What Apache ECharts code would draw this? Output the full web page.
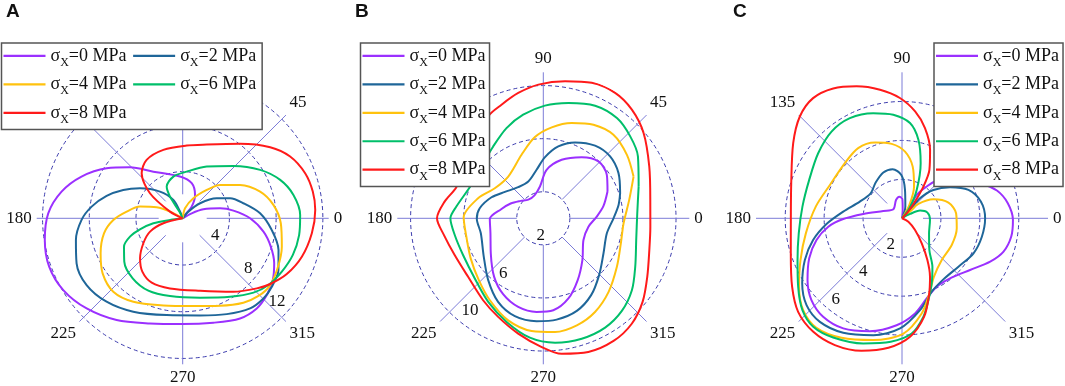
<!DOCTYPE html>
<html><head><meta charset="utf-8">
<script src="https://cdn.jsdelivr.net/npm/echarts@6/dist/echarts.min.js"></script>
<style>html,body{margin:0;padding:0;background:#fff}#c{width:1065px;height:386px}</style>
</head><body><div id="c"></div>
<script>
// ---- names, ticks ----
const sigmaNames = ['σX=0 MPa','σX=2 MPa','σX=4 MPa','σX=6 MPa','σX=8 MPa'];
const panelTitles = ['A','B','C'];
const angleTicks = [0,45,90,135,180,225,270,315];
const ringsA = [4,8,12];
const ringsB = [2,6,10];
const ringsC = [2,4,6];
const maxA = 12.5, maxB = 11, maxC = 7.5;

// ---- panel A data: [radius, angle(deg)] ----
const A0 = [[0,25],[0.88,29],[1.93,23.5],[3.31,15],[4.39,8.6],[5.77,0],[7.01,350.6],[7.92,342.2],[8.73,333.8],[9.35,325.6],[9.75,317.6],[9.99,309.4],[9.88,299.8],[9.32,286.4],[9.06,270],[9.43,252.7],[10.39,237],[11.28,223.2],[11.93,211],[12.16,199.9],[11.95,188.9],[11.52,177.9],[10.62,167.6],[9.37,157.6],[7.80,146.7],[6.28,135.9],[4.72,122.2],[3.58,93.7],[3.10,75.6],[2.26,62.1],[1.26,52.4],[0.35,55],[0,50]];
const A2 = [[0,50],[0.75,49.6],[1.97,40.9],[3.38,30.5],[4.40,22.9],[5.36,13.9],[6.64,3.7],[7.69,352.5],[8.64,341.7],[9.32,331.6],[9.62,322.5],[9.74,315.2],[9.63,306.8],[9.03,294.7],[8.45,280.1],[8.40,260.6],[9.05,242.1],[9.67,227.6],[10.02,214.8],[9.87,203],[9.33,191.5],[8.66,180.9],[7.86,172.7],[6.79,163.6],[5.64,154.5],[4.47,144.9],[3.0,130.4],[1.76,117],[0.62,111.8],[0,110]];
const A4 = [[0,78],[0.88,76.9],[1.94,61.9],[3.18,49.7],[4.29,41.8],[5.68,30.2],[7.01,19.0],[7.85,8.4],[8.41,357.1],[8.83,344],[9.18,332.2],[9.43,322],[9.29,314.3],[8.90,305.7],[8.14,293.1],[7.57,276.9],[7.64,257.5],[8.30,239.4],[8.65,226.6],[8.32,214.5],[7.64,203.1],[6.86,190.8],[5.94,181.4],[4.83,173.2],[3.79,164.7],[2.42,157.1],[1.07,151.4],[0,150]];
const A6 = [[0,115],[0.64,116.6],[2.15,120.3],[3.04,116.8],[3.66,102.6],[4.01,85.1],[4.88,65.1],[6.24,45.9],[7.82,32.0],[8.97,21.5],[9.69,11.9],[10.06,1.6],[10.07,351.8],[9.94,341.6],[9.64,331.7],[9.30,322.1],[8.79,313.6],[7.85,301.1],[6.96,282.3],[6.75,260.7],[6.86,244.6],[6.69,230.2],[6.23,216.6],[5.58,205.8],[4.78,199.2],[3.78,194.5],[2.55,189.7],[1.10,187.5],[0,187]];
const A8 = [[0,192],[1.71,194.5],[3.02,202.2],[3.99,212.4],[5.01,223.2],[5.73,232.9],[6.12,244.3],[6.10,259.7],[6.38,283.5],[7.64,304.6],[8.73,316.6],[9.37,323.1],[10.11,331.8],[10.72,342.1],[11.13,353.4],[11.37,3.6],[11.37,11.6],[11.17,20.2],[10.61,29.9],[9.65,39.1],[8.05,52.4],[6.64,72.0],[6.24,86.8],[6.09,105.8],[5.88,121.7],[5.22,132.3],[3.53,142.6],[1.23,152.2],[0,153]];

// ---- panel B data ----
const B0 = [[5.24,22.6],[5.80,34.4],[5.97,45.9],[5.44,57.9],[4.62,72.6],[3.66,86.1],[2.41,96],[1.85,111],[1.80,128.7],[2.15,142.4],[2.70,155.6],[3.25,167.8],[4.03,180.7],[4.14,195.9],[4.76,213.8],[5.76,230],[6.47,242.1],[6.94,254.2],[7.07,265.9],[6.97,276.2],[6.33,287.4],[5.33,299.1],[4.31,313.1],[3.44,331.6],[3.46,349.5],[4.03,1.8],[4.63,11.6],[5.24,22.6]];
const B2 = [[6.09,18.1],[6.61,31],[6.86,42.8],[6.72,54.5],[6.20,67.3],[5.53,78.2],[4.61,88.4],[3.69,97.9],[2.99,112.2],[3.01,128.9],[3.51,145.5],[4.21,157.9],[4.85,171],[5.01,180.3],[4.84,193.5],[5.34,212.9],[6.24,228.3],[7.16,241.6],[7.68,253.8],[7.77,266.3],[7.70,277.5],[7.42,289.9],[6.82,301.9],[6.00,314.5],[5.25,329.7],[4.92,346.7],[5.29,0],[5.76,10.1],[6.09,18.1]];
const B4 = [[7.49,24.8],[7.91,37.2],[8.22,50.0],[8.00,61.8],[7.49,73.4],[6.88,84.7],[6.15,95.9],[5.06,108.9],[4.11,130],[4.30,148.2],[5.14,162.9],[6.0,179.3],[5.96,193.4],[6.25,208.9],[6.73,223.8],[7.37,236.9],[8.13,251],[8.53,264.1],[8.61,275.9],[8.45,287.4],[8.06,298.9],[7.41,311.6],[6.64,326.6],[6.14,342.1],[6.06,356.4],[6.62,12.1],[7.49,24.8]];
const B6 = [[7.57,18.4],[8.52,33.2],[9.0,43.3],[9.37,53.7],[9.34,65.3],[8.89,77.7],[8.49,89.2],[7.95,101],[7.34,112.2],[6.60,124.9],[6.08,140],[6.02,157.1],[6.61,172.3],[7.0,180],[6.79,190.7],[6.65,204.6],[6.87,221.3],[7.54,236.6],[8.28,250.5],[9.05,263.6],[9.41,275.4],[9.52,287.7],[9.46,299.5],[9.15,310.3],[8.60,320.9],[7.83,332.2],[7.19,346.8],[7.09,3.1],[7.57,18.4]];
const B8 = [[8.18,9.8],[8.89,26.1],[9.92,40.4],[10.56,50.8],[10.89,60.2],[10.84,70.3],[10.46,81.0],[10.08,92.1],[9.63,101.3],[9.12,110.2],[8.73,118.4],[7.34,136.9],[6.96,160.3],[7.54,170.4],[8.01,180],[7.59,189.6],[7.23,202.5],[7.18,217.9],[7.66,233.7],[8.17,245.4],[8.89,257.7],[9.70,269.3],[10.3,277.7],[10.63,288.6],[10.65,299.8],[10.37,310],[9.78,319.9],[8.99,330.6],[8.34,343.3],[8.09,355.5],[8.18,9.8]];

// ---- panel C data ----
const C0 = [[0,55],[0.54,52.8],[1.42,57.8],[2.07,52.1],[2.54,48.0],[3.49,36.2],[4.40,24.2],[5.08,16.3],[5.49,8.1],[5.70,359.1],[5.69,350.5],[5.49,341.8],[5.05,333.8],[4.39,322.8],[3.95,308.7],[3.94,296.9],[4.31,287.1],[4.93,277.8],[5.50,267.1],[6.03,254.1],[6.41,241.9],[6.48,231.3],[6.27,222.1],[5.80,213.2],[5.19,203.3],[4.53,194.2],[3.81,186.5],[3.02,180.7],[2.0,173.6],[1.03,158.6],[0.64,133.9],[0.99,108.1],[1.12,97],[0.98,89],[0.43,85.4],[0,85]];
const C2 = [[0,46],[0.59,46.2],[1.38,48.0],[2.17,42.1],[2.94,32.9],[3.71,23.1],[4.14,12.0],[4.27,0],[4.21,347],[4.09,333.9],[3.82,319.4],[3.79,304.1],[4.07,292],[4.81,281.1],[5.66,269],[6.18,256.2],[6.61,242.8],[6.79,231.6],[6.63,222.3],[6.12,213.1],[5.43,203.2],[4.70,193.7],[3.89,184.3],[3.04,173.5],[2.33,158.4],[2.06,141.4],[2.28,126.4],[2.54,112.2],[2.57,100.8],[2.23,90.9],[1.47,84],[0.62,74],[0,72]];
const C4 = [[0,38],[0.54,39.8],[1.12,41.3],[1.89,31.2],[2.52,18.7],[2.79,5.3],[2.86,349.6],[2.90,331.8],[2.96,313.6],[3.42,298.7],[4.11,290],[4.99,281.7],[5.92,270.7],[6.43,256.7],[6.88,243.2],[7.14,232],[6.93,222.9],[6.35,213.6],[5.64,202.4],[5.0,188.9],[4.47,172.3],[4.08,155.2],[4.08,136],[4.25,122],[4.13,109.6],[3.86,97.9],[3.43,87.4],[2.71,78.3],[1.74,69.2],[0.78,61.2],[0,60]];
const C6 = [[0,25],[0.47,28.4],[1.01,23.1],[1.34,12.6],[1.44,356.6],[1.59,330.9],[2.15,310.8],[2.94,302.1],[3.68,294.5],[4.42,287.9],[5.18,282.2],[5.94,274.8],[6.37,264.8],[6.73,252.8],[7.07,240],[7.20,230.7],[6.96,222.7],[6.39,213.4],[5.78,201.8],[5.36,188.3],[5.15,173.3],[5.16,157.5],[5.45,142.2],[5.74,129.1],[5.80,117.5],[5.60,105.3],[5.34,94.8],[4.91,85.2],[4.12,78.2],[2.99,71.3],[1.64,62.6],[0.64,53.7],[0,52]];
const C8 = [[0,330],[0.37,332.2],[0.90,318.1],[1.64,308.2],[2.51,301.3],[3.33,295.6],[4.18,289.4],[5.19,282.6],[6.10,273.9],[6.69,264],[7.12,253],[7.37,242.1],[7.40,232],[7.18,222],[6.65,211.9],[5.99,197.5],[5.71,180],[5.97,162.4],[6.79,145.4],[7.41,135.1],[7.68,126.5],[7.55,117.9],[7.17,109],[6.70,99.7],[6.18,91],[5.53,83],[4.78,75.7],[3.80,67.7],[2.86,60.5],[1.96,56.0],[1.09,52.0],[0.40,46.7],[0,45]];

// ---- styling ----
const colors = ['#9B30FF','#1F6699','#FFC20E','#00BF6A','#FF1A1A'];
const R = 146;
const serif = 'Liberation Serif';
const panels = [
  {data:[A0,A2,A4,A6,A8], center:[182.7,218.3], max:maxA, dataMax:12.5, inner:24, rings:ringsA, radAngle:315,
   lab:{align:'right', verticalAlign:'bottom', margin:11, padding:[0,4,0,0]}},
  {data:[B0,B2,B4,B6,B8], center:[543.3,218.3], max:maxB, dataMax:11, inner:2*R/maxB, rings:ringsB, radAngle:225,
   lab:{align:'left', verticalAlign:'bottom', margin:10, padding:[0,0,0,5]}},
  {data:[C0,C2,C4,C6,C8], center:[902,218.3], max:maxC, dataMax:8, inner:21, rings:ringsC, radAngle:225,
   lab:{align:'left', verticalAlign:'bottom', margin:10, padding:[0,0,0,5]}}
];

const polar = [], angleAxis = [], radiusAxis = [], series = [];
panels.forEach((p, i) => {
  // grid polar (radial lines, dashed rings, radius labels)
  polar.push({center:p.center, radius:[p.inner, R]});
  angleAxis.push({polarIndex:2*i, type:'value', min:0, max:360, interval:45, startAngle:p.radAngle, clockwise:false,
    axisLine:{show:false}, axisTick:{show:false}, axisLabel:{show:false},
    splitLine:{show:true, lineStyle:{color:'#7c7cd8', width:1}}});
  radiusAxis.push({polarIndex:2*i, type:'value', min:p.inner*p.max/R, max:p.max,
    axisLine:{show:false}, axisTick:{show:false, customValues:p.rings},
    axisLabel:Object.assign({customValues:p.rings, fontFamily:serif, fontSize:17, color:'#111'}, p.lab),
    splitLine:{show:true, lineStyle:{type:[4,3], color:'#3c3cae', width:1}}});
  // data polar (same scale, radius extended so no curve is cut)
  const Rd = R * p.dataMax / p.max;
  polar.push({center:p.center, radius:[0, Rd]});
  angleAxis.push({polarIndex:2*i+1, type:'value', min:0, max:360, interval:45, startAngle:0, clockwise:false,
    axisLine:{show:false}, axisTick:{show:false}, splitLine:{show:false},
    axisLabel:{margin:5 - (Rd - R), fontFamily:serif, fontSize:17, color:'#111'}});
  radiusAxis.push({polarIndex:2*i+1, type:'value', min:0, max:p.dataMax,
    axisLine:{show:false}, axisTick:{show:false}, axisLabel:{show:false}, splitLine:{show:false}});
  p.data.forEach((d, k) => series.push({
    type:'line', coordinateSystem:'polar', polarIndex:2*i+1, name:sigmaNames[k], data:d,
    smooth:0.3, symbol:'none', showSymbol:false, clip:false, z:3,
    lineStyle:{width:2, color:colors[k]}, itemStyle:{color:colors[k]}
  }));
});

const legendCommon = {
  data: sigmaNames, icon:'rect', itemWidth:42, itemHeight:2.2, selectedMode:false, itemGap:6.6,
  backgroundColor:'#fff', borderColor:'#555', borderWidth:1.5, borderRadius:0,
  formatter: n => '{s|σ}{x|X}{s|' + n.slice(2) + '}',
  textStyle:{rich:{
    s:{fontFamily:serif, fontSize:18, lineHeight:25.7, color:'#111'},
    x:{fontFamily:serif, fontSize:12, lineHeight:16, verticalAlign:'bottom', color:'#111'}
  }}
};
const legend = [
  Object.assign({}, legendCommon, {left:1.5, top:43, width:275, orient:'horizontal', padding:[3.9,6,3.9,2]}),
  Object.assign({}, legendCommon, {left:360.5, top:43, orient:'vertical', padding:[3.9,4,3.9,2]}),
  Object.assign({}, legendCommon, {left:934, top:43, orient:'vertical', padding:[3.9,4,3.9,2]})
];

const title = panelTitles.map((t, i) => ({
  text:t, left:[6,355,733][i], top:2.5, padding:0,
  textStyle:{fontFamily:'Liberation Sans', fontWeight:'bold', fontSize:19, color:'#111'}
}));

const chart = echarts.init(document.getElementById('c'), null, {renderer:'canvas'});
chart.setOption({animation:false, backgroundColor:'#fff', title, legend, polar, angleAxis, radiusAxis, series});
</script></body></html>
